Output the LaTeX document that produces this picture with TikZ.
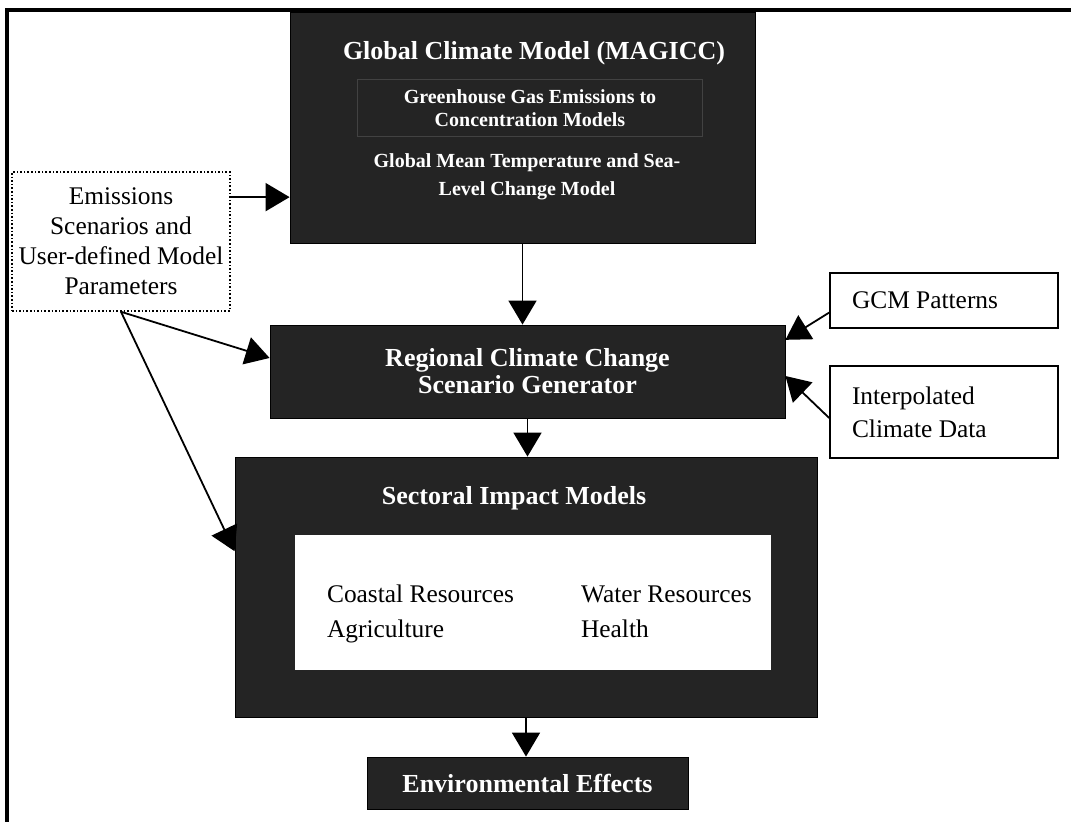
\documentclass[tikz,border=0pt]{standalone}
\usepackage{fontspec}
\setmainfont{Liberation Serif}
\usetikzlibrary{arrows.meta}

\tikzset{
  darkbox/.style={fill=black!86, draw=black, inner sep=0pt},
  whitebox/.style={draw=black, line width=0.8pt, fill=white, align=flush left, inner xsep=11pt, inner ysep=0pt},
  title/.style={text=white, font=\fontsize{13}{13.5}\selectfont\bfseries, align=center},
  subtitle/.style={text=white, font=\fontsize{10}{11.5}\selectfont\bfseries, align=center},
  plain/.style={font=\fontsize{12.7}{15}\selectfont},
  link/.style={-{Triangle[length=12pt,width=14pt]}, line width=0.9pt},
}

\begin{document}
\begin{tikzpicture}[x=0.5pt, y=-0.5pt]
  \useasboundingbox (0,0) rectangle (1071,822);

  % frame of the figure
  \draw[line width=1.6pt] (1071,10) -- (7,10) -- (7,822);

  \node[darkbox, minimum width=232.5pt, minimum height=115.5pt] (magicc) at (522.5,127.5) {};
  \node[title] (magiccT) at (534,53) {Global Climate Model (MAGICC)};
  \node[subtitle, draw=black!74, minimum width=172.5pt, minimum height=28.5pt] (ghg) at (530,108)
    {Greenhouse Gas Emissions to\\Concentration Models};
  \node[subtitle, font=\fontsize{10}{14}\selectfont\bfseries] (gmt) at (527,177)
    {Global Mean Temperature and Sea-\\Level Change Model};

  \node[plain, draw, densely dotted, line width=0.8pt, align=center, inner sep=0pt,
        minimum width=109pt, minimum height=69.5pt] (emis) at (121,241.5)
    {Emissions\\Scenarios and\\User-defined Model\\Parameters};

  \node[darkbox, title, minimum width=257.5pt, minimum height=46.5pt] (regional) at (527.5,371.5)
    {Regional Climate Change\\Scenario Generator};

  \node[whitebox, plain, text width=92pt, minimum height=27.5pt] (gcm) at (944,300.5) {GCM Patterns};
  \node[whitebox, font=\fontsize{12.7}{16.5}\selectfont, text width=92pt, minimum height=46pt] (interp) at (944,412)
    {Interpolated\\Climate Data};

  \node[darkbox, minimum width=291pt, minimum height=130pt] (sectoral) at (526,587) {};
  \node[title] (sectoralT) at (514,498) {Sectoral Impact Models};
  \node[fill=white, inner sep=0pt, minimum width=238pt, minimum height=67.5pt] (sectors) at (533,602.5) {};
  \node[plain, anchor=base west] (coast) at (320,603) {Coastal Resources};
  \node[plain, anchor=base west] (agri) at (320,638) {Agriculture};
  \node[plain, anchor=base west] (water) at (574,603) {Water Resources};
  \node[plain, anchor=base west] (health) at (574,638) {Health};

  \node[darkbox, title, minimum width=160.5pt, minimum height=26pt] (env) at (527.5,783) {Environmental Effects};

  % arrows
  \draw[link] (emis.22) -- (emis.22 -| magicc.west);
  \draw[link] (magicc.south) -- (magicc.south |- regional.north);
  \draw[link] (regional.south) -- (regional.south |- sectoral.north);
  \draw[link] (sectoral.south) -- (sectoral.south |- env.north);
  \draw[link] (emis.south) -- (regional.177);
  \draw[link] (emis.south) -- (sectoral.173);
  \draw[link] (gcm.186) -- (regional.7);
  \draw[link] (interp.183) -- (regional.359);
\end{tikzpicture}
\end{document}
